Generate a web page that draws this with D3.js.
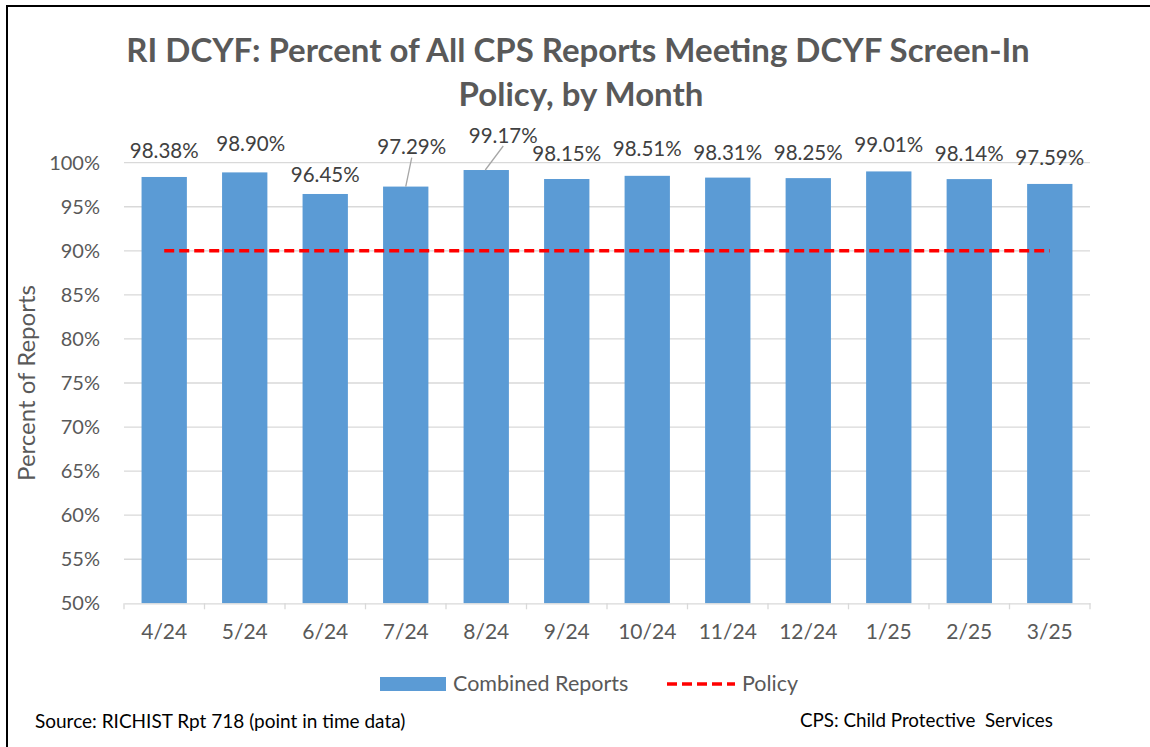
<!DOCTYPE html>
<html>
<head>
<meta charset="utf-8">
<script src="https://cdn.jsdelivr.net/npm/d3@7"></script>
<style>
  body { margin: 0; background: #fff; }
  text { font-family: Lato, "Noto Sans", sans-serif; }
</style>
</head>
<body>
<div id="chart"></div>
<script>
// data
var months = ['4/24', '5/24', '6/24', '7/24', '8/24', '9/24', '10/24', '11/24', '12/24', '1/25', '2/25', '3/25'];
var combined = [98.38, 98.90, 96.45, 97.29, 99.17, 98.15, 98.51, 98.31, 98.25, 99.01, 98.14, 97.59];
var policy = [90, 90, 90, 90, 90, 90, 90, 90, 90, 90, 90, 90];
var yTicks = [50, 55, 60, 65, 70, 75, 80, 85, 90, 95, 100];

// label nudges (the ones moved by hand in the original)
var labelDx = [0, 6, 0, 6, 17, 0, 0, 0, 0, 0, 0, 0];
var labelDy = [0, -3, 7, -14, -9, 0, -1, 1, 0, -1, 0, 0];
var leader = [false, false, false, true, true, false, false, false, false, false, false, false];

var width = 1150, height = 747;
var plotL = 124, plotR = 1090, plotT = 162.7, plotB = 603.3;
var textCol = '#595959', gridCol = '#d9d9d9', barCol = '#5b9bd5';

var svg = d3.select('#chart').append('svg').attr('width', width).attr('height', height);

svg.append('rect').attr('x', 7).attr('y', 6).attr('width', 1200).attr('height', 800)
  .attr('fill', 'none').attr('stroke', '#000').attr('stroke-width', 2);

var x = d3.scaleBand().domain(months).range([plotL, plotR]).paddingInner(0.437).paddingOuter(0.218);
var y = d3.scaleLinear().domain([50, 100]).range([plotB, plotT]);

// title
var title = svg.append('text').attr('text-anchor', 'middle').attr('fill', textCol)
  .attr('font-weight', 'bold').attr('font-size', 33);
title.append('tspan').attr('x', 578).attr('y', 62).text('RI DCYF: Percent of All CPS Reports Meeting DCYF Screen-In');
title.append('tspan').attr('x', 581).attr('y', 106).text('Policy, by Month');

// grid
svg.append('g').selectAll('line').data(yTicks.slice(1)).join('line')
  .attr('x1', plotL).attr('x2', plotR)
  .attr('y1', d => y(d)).attr('y2', d => y(d))
  .attr('stroke', gridCol).attr('stroke-width', 1.3);

// y labels
var yAxis = svg.append('g').attr('transform', 'translate(' + plotL + ',0)')
  .call(d3.axisLeft(y).tickValues(yTicks).tickFormat(d => d + '%').tickSize(0).tickPadding(24));
yAxis.select('.domain').remove();
yAxis.selectAll('text').attr('font-size', 20).attr('fill', textCol).attr('font-family', 'Lato');

svg.append('text').attr('transform', 'translate(35,383) rotate(-90)')
  .attr('text-anchor', 'middle').attr('font-size', 24).attr('fill', textCol)
  .text('Percent of Reports');

// bars
svg.append('g').selectAll('rect').data(combined).join('rect')
  .attr('x', (d, i) => x(months[i]))
  .attr('width', x.bandwidth())
  .attr('y', d => y(d))
  .attr('height', d => y(50) - y(d))
  .attr('fill', barCol);

// x axis
var step = (plotR - plotL) / months.length;
var xAxis = svg.append('g').attr('transform', 'translate(0,' + plotB + ')')
  .call(d3.axisBottom(x).tickSize(0).tickPadding(21));
xAxis.select('.domain').attr('stroke', gridCol).attr('stroke-width', 1.3);
xAxis.selectAll('text').attr('font-size', 21).attr('fill', textCol).attr('font-family', 'Lato');
svg.append('g').selectAll('line').data(d3.range(months.length + 1)).join('line')
  .attr('x1', d => plotL + d * step).attr('x2', d => plotL + d * step)
  .attr('y1', plotB).attr('y2', plotB + 6)
  .attr('stroke', gridCol).attr('stroke-width', 1.3);

// policy line
var cx = (d, i) => x(months[i]) + x.bandwidth() / 2;
svg.append('path').datum(policy)
  .attr('d', d3.line().x(cx).y(d => y(d)))
  .attr('fill', 'none').attr('stroke', '#ff0000').attr('stroke-width', 3.5)
  .attr('stroke-dasharray', '10,5');

// data labels
var lab = svg.append('g');
combined.forEach(function(v, i) {
  var lx = cx(v, i) + labelDx[i];
  var ly = y(v) - 26 + labelDy[i];
  if (leader[i]) {
    lab.append('line')
      .attr('x1', lx).attr('y1', ly + 11)
      .attr('x2', cx(v, i) - (i == 4 ? 1 : 0)).attr('y2', y(v))
      .attr('stroke', '#a6a6a6').attr('stroke-width', 1.3);
  }
  lab.append('text').attr('x', lx).attr('y', ly + 7.5)
    .attr('text-anchor', 'middle').attr('font-size', 20.5).attr('fill', '#404040')
    .text(v.toFixed(2) + '%');
});

// legend
var lg = svg.append('g');
lg.append('rect').attr('x', 380).attr('y', 677).attr('width', 66).attr('height', 14).attr('fill', barCol);
lg.append('text').attr('x', 453).attr('y', 691).attr('font-size', 21.5).attr('fill', textCol).text('Combined Reports');
lg.append('line').attr('x1', 667).attr('x2', 735).attr('y1', 684).attr('y2', 684)
  .attr('stroke', '#ff0000').attr('stroke-width', 3.5).attr('stroke-dasharray', '10,5');
lg.append('text').attr('x', 742).attr('y', 691).attr('font-size', 21.5).attr('fill', textCol).text('Policy');

// footer
svg.append('text').attr('x', 35).attr('y', 728).attr('font-size', 19).attr('fill', '#000')
  .text('Source: RICHIST Rpt 718 (point in time data)');
svg.append('text').attr('x', 800).attr('y', 727).attr('font-size', 18.8).attr('fill', '#000')
  .style('white-space', 'pre')
  .text('CPS: Child Protective  Services');
</script>
</body>
</html>
